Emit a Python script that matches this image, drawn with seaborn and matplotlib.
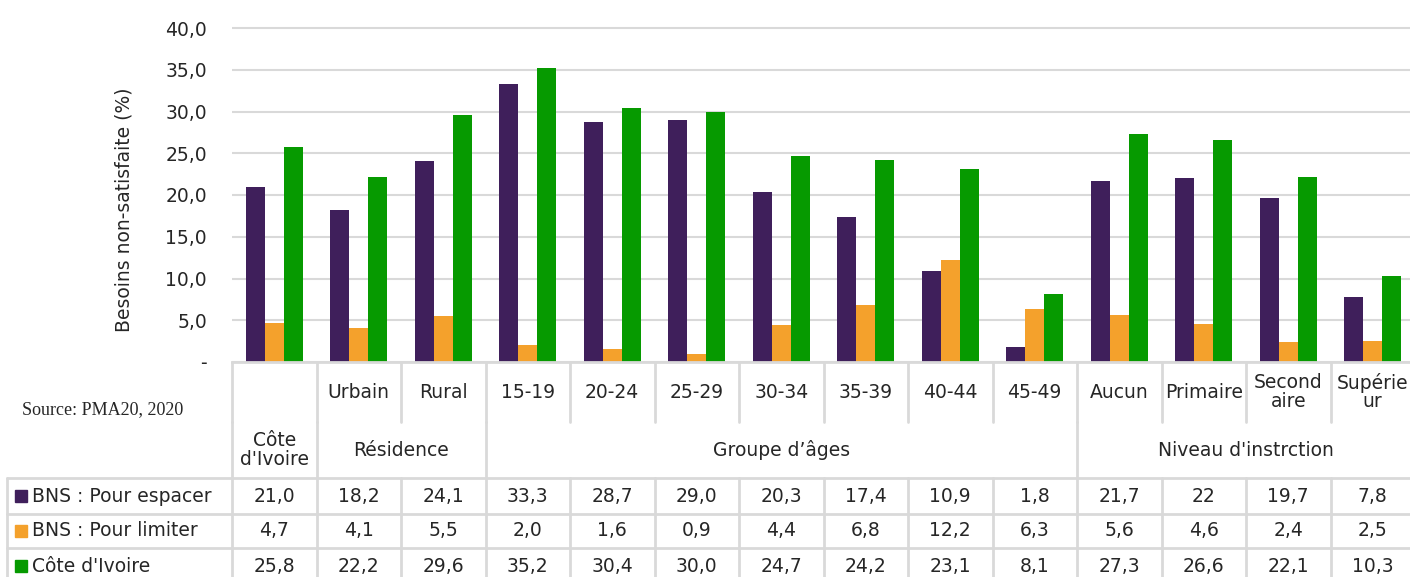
import matplotlib
matplotlib.use("Agg")
import matplotlib.pyplot as plt
import seaborn as sns
import pandas as pd
from matplotlib.patches import Rectangle

W, H = 1410, 577

categories = ["Côte d'Ivoire", "Urbain", "Rural", "15-19", "20-24", "25-29", "30-34",
              "35-39", "40-44", "45-49", "Aucun", "Primaire", "Secondaire", "Supérieur"]
top_labels = ["", "Urbain", "Rural", "15-19", "20-24", "25-29", "30-34",
              "35-39", "40-44", "45-49", "Aucun", "Primaire", "Second\naire", "Supérie\nur"]
groups = [("Côte\nd'Ivoire", 0, 1), ("Résidence", 1, 3),
          ("Groupe d’âges", 3, 10), ("Niveau d'instrction", 10, 14)]

series = ["BNS : Pour espacer", "BNS : Pour limiter", "Côte d'Ivoire"]
espacer = [21.0, 18.2, 24.1, 33.3, 28.7, 29.0, 20.3, 17.4, 10.9, 1.8, 21.7, 22, 19.7, 7.8]
limiter = [4.7, 4.1, 5.5, 2.0, 1.6, 0.9, 4.4, 6.8, 12.2, 6.3, 5.6, 4.6, 2.4, 2.5]
total = [25.8, 22.2, 29.6, 35.2, 30.4, 30.0, 24.7, 24.2, 23.1, 8.1, 27.3, 26.6, 22.1, 10.3]
colors = ["#3F1F5B", "#F4A12C", "#069A00"]

GRID = "#D9D9D9"
TXT = "#262626"
FS = 13.5


def fmt(v):
    # integers are shown as-is in the source table (e.g. "22")
    if isinstance(v, int):
        return str(v)
    return f"{v:.1f}".replace(".", ",")


df = pd.DataFrame({
    "categorie": categories * 3,
    "serie": [s for s in series for _ in categories],
    "valeur": espacer + limiter + total,
})

sns.set_style("white")
plt.rcParams["font.family"] = ["DejaVu Sans"]

fig = plt.figure(figsize=(W / 100, H / 100), dpi=100)
x0, colw = 232, 1183 / 14
y_zero, y_top_ax = 362, 24
ymax = 40 * (y_zero - y_top_ax) / (y_zero - 28)
ax = fig.add_axes([x0 / W, 1 - y_zero / H, 14 * colw / W, (y_zero - y_top_ax) / H])

sns.barplot(data=df, x="categorie", y="valeur", hue="serie", order=categories,
            hue_order=series, palette=colors, width=0.67, saturation=1,
            errorbar=None, linewidth=0, ax=ax)
ax.legend_.remove()
ax.set_xlim(-0.5, 13.5)
ax.set_ylim(0, ymax)
ax.set_yticks(range(0, 41, 5))
ax.set_yticklabels(["-"] + [f"{t},0" for t in range(5, 41, 5)], fontsize=FS, color=TXT)
ax.tick_params(axis="y", length=0, pad=18)
ax.set_xticks([])
ax.set_xlabel("")
ax.set_ylabel("Besoins non-satisfaite (%)", fontsize=FS, color=TXT)
ax.yaxis.set_label_coords(-0.083, 0.45)
ax.set_axisbelow(True)
ax.yaxis.grid(True, color=GRID, linewidth=1.5)
for s in ["top", "right", "left"]:
    ax.spines[s].set_visible(False)
ax.spines["bottom"].set_color(GRID)
ax.spines["bottom"].set_linewidth(2)

# data table under the bars, drawn in pixel coordinates
tab = fig.add_axes([0, 0, 1, 1], zorder=-1)
tab.set_xlim(0, W)
tab.set_ylim(H, 0)
tab.axis("off")
edges = [x0 + i * colw for i in range(15)]
y_top, y_mid, y_grp = 362, 422, 478
row_lines = [478, 514, 548, 584]
lw = 2

for e in edges:
    tab.plot([e, e], [y_top, y_mid], color=GRID, lw=lw)
group_edges = sorted({g[1] for g in groups} | {g[2] for g in groups})
for gi in group_edges:
    tab.plot([edges[gi], edges[gi]], [y_mid, y_grp], color=GRID, lw=lw)
for e in [7] + edges:
    tab.plot([e, e], [row_lines[0], row_lines[-1]], color=GRID, lw=lw)
for y in row_lines:
    tab.plot([7, edges[-1]], [y, y], color=GRID, lw=lw)

for i, lab in enumerate(top_labels):
    tab.text(edges[i] + colw / 2, 392, lab, ha="center", va="center",
             fontsize=FS, color=TXT, linespacing=0.95)
for lab, a, b in groups:
    tab.text((edges[a] + edges[b]) / 2, 450, lab, ha="center", va="center",
             fontsize=FS, color=TXT, linespacing=1.0)

for r, (name, vals, col) in enumerate(zip(series, [espacer, limiter, total], colors)):
    yc = (row_lines[r] + row_lines[r + 1]) / 2
    tab.add_patch(Rectangle((15, yc - 6), 12, 12, color=col))
    tab.text(32, yc, name, ha="left", va="center", fontsize=FS, color=TXT)
    for i, v in enumerate(vals):
        tab.text(edges[i] + colw / 2, yc, fmt(v), ha="center", va="center",
                 fontsize=FS, color=TXT)

tab.text(22, 410, "Source: PMA20, 2020", ha="left", va="center", fontsize=13,
         color=TXT, family=["Liberation Serif"])

fig.savefig("out.png", dpi=100)
plt.close(fig)
